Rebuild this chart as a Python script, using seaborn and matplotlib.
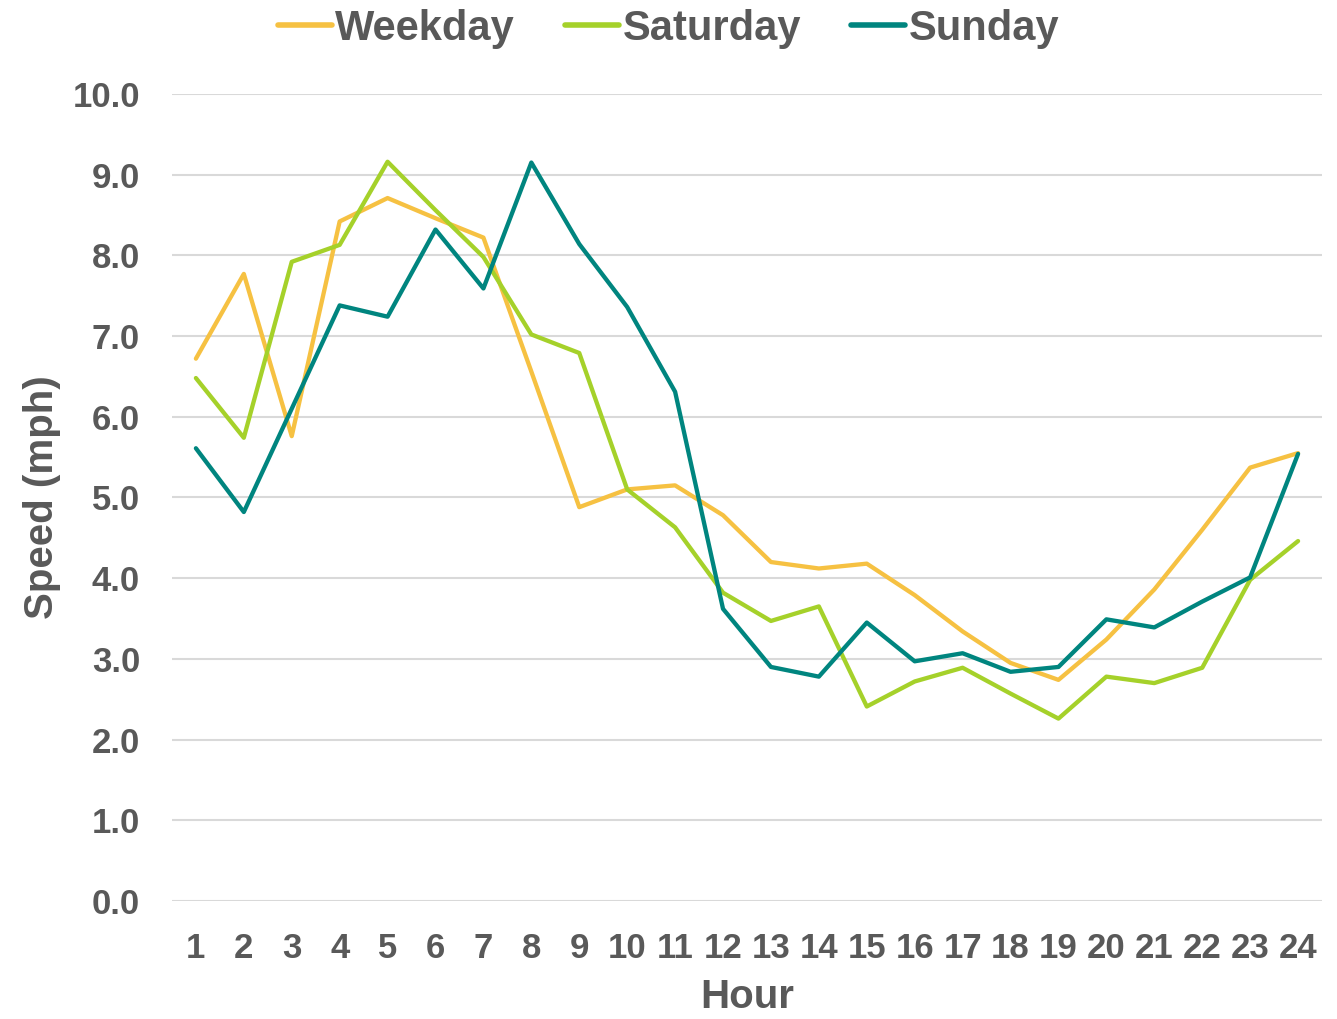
import matplotlib
matplotlib.use("Agg")
import matplotlib.pyplot as plt
import seaborn as sns
import pandas as pd
import numpy as np

hours = list(range(1, 25))
weekday = [6.72, 7.77, 5.76, 8.42, 8.71, 8.46, 8.22, 6.56, 4.88, 5.10, 5.15, 4.78,
           4.20, 4.12, 4.18, 3.79, 3.34, 2.95, 2.74, 3.24, 3.86, 4.60, 5.37, 5.55]
saturday = [6.48, 5.74, 7.92, 8.13, 9.16, 8.56, 7.98, 7.02, 6.79, 5.10, 4.63, 3.82,
            3.47, 3.65, 2.41, 2.72, 2.89, 2.57, 2.26, 2.78, 2.70, 2.89, 3.98, 4.46]
sunday = [5.61, 4.82, 6.10, 7.38, 7.24, 8.32, 7.59, 9.15, 8.14, 7.36, 6.31, 3.62,
          2.90, 2.78, 3.45, 2.97, 3.07, 2.84, 2.90, 3.49, 3.39, 3.71, 4.01, 5.54]
series_names = ["Weekday", "Saturday", "Sunday"]
colors = ["#F6C142", "#A5D12A", "#00857F"]
y_ticks = [0, 1, 2, 3, 4, 5, 6, 7, 8, 9, 10]

df = pd.concat([
    pd.DataFrame({"Hour": hours, "Speed": vals, "Day": name})
    for name, vals in zip(series_names, [weekday, saturday, sunday])
], ignore_index=True)

sns.set_theme(style="white")
plt.rcParams["font.family"] = ["Liberation Sans", "DejaVu Sans"]
text_color = "#595959"

fig = plt.figure(figsize=(13.37, 10.19), dpi=100)
ax = fig.add_axes([0.1286, 0.1158, 0.9888 - 0.1286, 0.9078 - 0.1158])

sns.lineplot(data=df, x="Hour", y="Speed", hue="Day", hue_order=series_names,
             palette=colors, linewidth=3.1, ax=ax, legend=True)

ax.set_xlim(0.5, 24.5)
ax.set_ylim(0, 10)
ax.set_yticks(y_ticks)
ax.set_yticklabels([f"{v:.1f}" for v in y_ticks])
ax.set_xticks(hours)
ax.set_xticklabels([str(h) for h in hours])
ax.yaxis.grid(True, color="#D9D9D9", linewidth=1.5)
ax.xaxis.grid(False)
ax.set_axisbelow(True)
for s in ax.spines.values():
    s.set_visible(False)
ax.tick_params(axis="both", length=0, labelsize=25, colors=text_color)
ax.tick_params(axis="y", pad=23)
ax.tick_params(axis="x", pad=22)
for lab in ax.get_xticklabels() + ax.get_yticklabels():
    lab.set_fontweight("bold")

ax.set_xlabel("Hour", fontsize=29, fontweight="bold", color=text_color, labelpad=10)
ax.set_ylabel("Speed (mph)", fontsize=29, fontweight="bold", color=text_color, labelpad=8)

handles, labels = ax.get_legend_handles_labels()
ax.legend_.remove()
leg = fig.legend(handles, labels, loc="center", bbox_to_anchor=(0.5, 0.972), ncol=3,
                 frameon=False, handlelength=1.3, handletextpad=0.08, columnspacing=1.2,
                 prop={"size": 30, "weight": "bold"})
for t in leg.get_texts():
    t.set_color(text_color)
for l in leg.get_lines():
    l.set_linewidth(4)

fig.savefig("out.png", dpi=100)
